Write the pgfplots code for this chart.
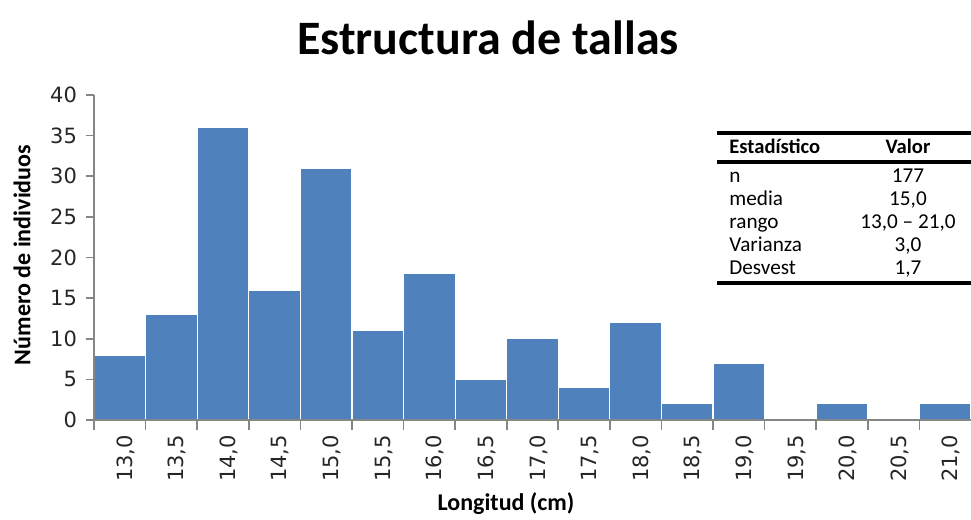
\documentclass[border=0pt]{standalone}
\usepackage{pgfplots}
\pgfplotsset{compat=1.18}
\usepackage{fontspec}
\setmainfont{Carlito}
\newfontfamily\tickfont{DejaVu Sans}
\definecolor{barblue}{HTML}{4F81BD}
\definecolor{axgray}{HTML}{868686}
\begin{document}
\begin{tikzpicture}
\path[use as bounding box] (0,0) rectangle (485.5pt,260pt);
\begin{axis}[
  at={(47pt,50pt)}, anchor=south west,
  scale only axis, width=438.5pt, height=162.5pt,
  xmin=-0.5, xmax=16.5, ymin=0, ymax=40,
  axis lines*=left,
  axis line style={axgray, line width=0.8pt},
  axis on top,
  tick align=outside,
  /pgf/number format/assume math mode=true,
  ytick={0,5,...,40},
  major tick length=4pt,
  minor tick length=5pt,
  ytick style={axgray, line width=0.8pt},
  xtick={0,...,16},
  xticklabels={{13,0},{13,5},{14,0},{14,5},{15,0},{15,5},{16,0},{16,5},{17,0},{17,5},{18,0},{18,5},{19,0},{19,5},{20,0},{20,5},{21,0}},
  major x tick style={draw=none},
  minor xtick={-0.5,0.5,...,15.5},
  minor x tick style={axgray, line width=0.8pt},
  yticklabel style={font=\tickfont\fontsize{10.5}{12}\selectfont, text=black!85, xshift=-1pt},
  xticklabel style={rotate=90, anchor=east, font=\tickfont\fontsize{10.5}{12}\selectfont, text=black!85, yshift=-3pt},
]
\addplot[ybar, bar width=1, fill=barblue, draw=white, line width=0.6pt] coordinates {
(0,8) (1,13) (2,36) (3,16) (4,31) (5,11) (6,18) (7,5) (8,10) (9,4) (10,12) (11,2) (12,7) (13,0) (14,2) (15,0) (16,2)};
\end{axis}
% title and labels
\node[font=\bfseries\fontsize{24}{28}\selectfont] at (244pt,241pt) {Estructura de tallas};
\node[font=\bfseries\fontsize{12}{14}\selectfont, rotate=90] at (11pt,132.5pt) {Número de individuos};
\node[font=\bfseries\fontsize{12}{14}\selectfont] at (253pt,8pt) {Longitud (cm)};
% statistics table
\draw[line width=2pt] (358.5pt,193.3pt) -- (485.5pt,193.3pt);
\draw[line width=2pt] (358.5pt,178.8pt) -- (485.5pt,178.8pt);
\draw[line width=2pt] (358.5pt,118.3pt) -- (485.5pt,118.3pt);
\begin{scope}[every node/.style={font=\fontsize{10.6}{12}\selectfont, inner sep=0pt}]
\node[anchor=base west, font=\bfseries\fontsize{10.3}{12}\selectfont] at (364.5pt,183.3pt) {Estadístico};
\node[anchor=base, font=\bfseries\fontsize{10.3}{12}\selectfont] at (454pt,183.3pt) {Valor};
\node[anchor=base west] at (364.5pt,168.5pt) {n};
\node[anchor=base] at (454pt,168.5pt) {177};
\node[anchor=base west] at (364.5pt,157pt) {media};
\node[anchor=base] at (454pt,157pt) {15,0};
\node[anchor=base west] at (364.5pt,145.5pt) {rango};
\node[anchor=base] at (454pt,145.5pt) {13,0 – 21,0};
\node[anchor=base west] at (364.5pt,134pt) {Varianza};
\node[anchor=base] at (454pt,134pt) {3,0};
\node[anchor=base west] at (364.5pt,122.5pt) {Desvest};
\node[anchor=base] at (454pt,122.5pt) {1,7};
\end{scope}
\end{tikzpicture}
\end{document}
